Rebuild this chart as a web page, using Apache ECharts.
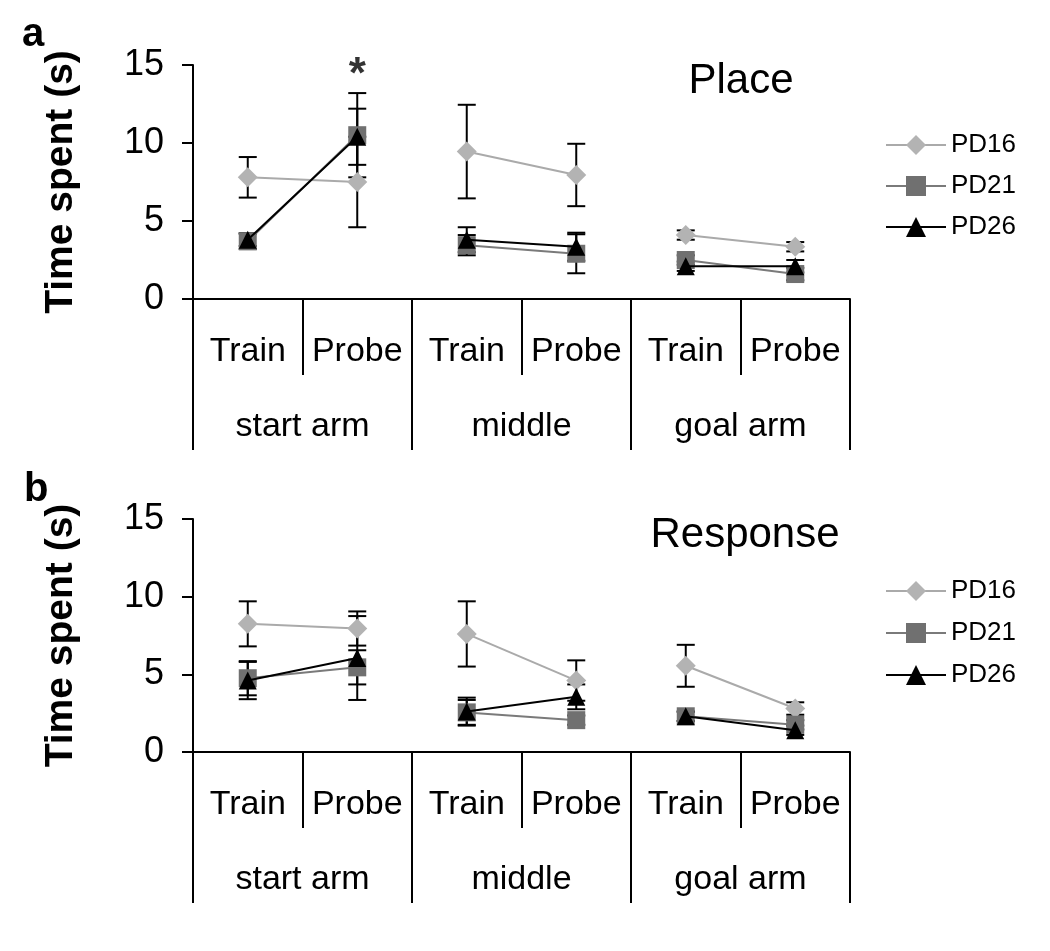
<!DOCTYPE html>
<html>
<head>
<meta charset="utf-8">
<script src="https://cdn.jsdelivr.net/npm/echarts@6/dist/echarts.min.js"></script>
<style>html,body{margin:0;padding:0;background:#fff}#c{width:1050px;height:951px}</style>
</head>
<body>
<div id="c"></div>
<script>
// ---- data ----
const conditions = ['Train', 'Probe', 'Train', 'Probe', 'Train', 'Probe'];
const zones = ['start arm', 'middle', 'goal arm'];
const yTicks = [0, 5, 10, 15];
const seriesNames = ['PD16', 'PD21', 'PD26'];
const panelTitles = ['Place', 'Response'];
const panelLetters = ['a', 'b'];

// Panel a (Place): means and error (±)
const placePD16 = [7.8, 7.5, 9.45, 7.95, 4.1, 3.35];
const placePD16Err = [1.3, 2.9, 3.0, 2.0, 0.3, 0.3];
const placePD21 = [3.7, 10.5, 3.45, 2.9, 2.5, 1.6];
const placePD21Err = [0.5, 2.7, 0.65, 1.25, 0.3, 0.4];
const placePD26 = [3.8, 10.4, 3.8, 3.35, 2.1, 2.1];
const placePD26Err = [0.4, 1.8, 0.8, 0.9, 0.3, 0.4];

// Panel b (Response)
const respPD16 = [8.25, 7.95, 7.6, 4.6, 5.55, 2.8];
const respPD16Err = [1.45, 1.1, 2.1, 1.3, 1.35, 0.4];
const respPD21 = [4.75, 5.45, 2.55, 2.05, 2.3, 1.75];
const respPD21Err = [1.1, 1.1, 0.8, 0.3, 0.3, 0.3];
const respPD26 = [4.6, 6.05, 2.6, 3.55, 2.3, 1.4];
const respPD26Err = [1.2, 2.7, 0.9, 0.8, 0.3, 0.3];

// significance marker (panel a, start arm probe)
const sigMarks = [[1, 14.3]];

// ---- styling ----
const FONT = 'Liberation Sans, Arial, sans-serif';
const styles = {
  PD16: { symbol: 'diamond', size: 20, fill: '#b3b3b3', line: '#aaaaaa' },
  PD21: { symbol: 'rect', size: 18, fill: '#707070', line: '#7a7a7a' },
  PD26: { symbol: 'triangle', size: 18, fill: '#000000', line: '#000000' }
};

const panels = [
  { means: [placePD16, placePD21, placePD26], errs: [placePD16Err, placePD21Err, placePD26Err] },
  { means: [respPD16, respPD21, respPD26], errs: [respPD16Err, respPD21Err, respPD26Err] }
];

const grids = [
  { left: 193, top: 65, width: 657, height: 234 },
  { left: 193, top: 519, width: 657, height: 233 }
];

const xAxes = [];
const yAxes = [];
const series = [];

grids.forEach((g, p) => {
  xAxes.push({
    type: 'category', gridIndex: p, position: 'bottom', data: conditions,
    boundaryGap: true,
    axisLine: { show: true, onZero: false, lineStyle: { color: '#000', width: 2 } },
    axisTick: { show: true, length: 76, interval: 0, lineStyle: { color: '#000', width: 2 } },
    axisLabel: { show: true, interval: 0, margin: 36, fontSize: 34, color: '#000', fontFamily: FONT },
    splitLine: { show: false }
  });
  xAxes.push({
    type: 'category', gridIndex: p, position: 'bottom', data: zones,
    boundaryGap: true,
    axisLine: { show: false, onZero: false },
    axisTick: { show: true, length: 151, interval: 0, lineStyle: { color: '#000', width: 2 } },
    axisLabel: { show: true, interval: 0, margin: 111, fontSize: 34, color: '#000', fontFamily: FONT },
    splitLine: { show: false }
  });
  yAxes.push({
    type: 'value', gridIndex: p, min: yTicks[0], max: yTicks[yTicks.length - 1], interval: 5,
    name: 'Time spent (s)', nameLocation: 'middle', nameGap: 112,
    nameTextStyle: { fontSize: 39, fontWeight: 'bold', color: '#000', fontFamily: FONT },
    axisLine: { show: true, lineStyle: { color: '#000', width: 2 } },
    axisTick: { show: true, length: 11, lineStyle: { color: '#000', width: 2 } },
    axisLabel: { margin: 29, fontSize: 36, color: '#000', fontFamily: FONT },
    splitLine: { show: false }
  });

  const xIdx = p * 2;
  seriesNames.forEach((name, s) => {
    const st = styles[name];
    const means = panels[p].means[s];
    const errs = panels[p].errs[s];
    // error bars
    series.push({
      type: 'custom', name: name + '-err', xAxisIndex: xIdx, yAxisIndex: p,
      z: 1, silent: true,
      data: means.map((m, i) => [i, m, errs[i]]),
      encode: { x: 0, y: 1 },
      renderItem: function (params, api) {
        const x = api.value(0), m = api.value(1), e = api.value(2);
        const top = api.coord([x, m + e]);
        const bot = api.coord([x, m - e]);
        const hw = 9;
        const ls = { stroke: '#000', lineWidth: 2 };
        return {
          type: 'group',
          children: [
            { type: 'line', shape: { x1: top[0], y1: top[1], x2: bot[0], y2: bot[1] }, style: ls },
            { type: 'line', shape: { x1: top[0] - hw, y1: top[1], x2: top[0] + hw, y2: top[1] }, style: ls },
            { type: 'line', shape: { x1: bot[0] - hw, y1: bot[1], x2: bot[0] + hw, y2: bot[1] }, style: ls }
          ]
        };
      }
    });
    // line segments per zone (Train-Probe)
    zones.forEach((zn, gi) => {
      const data = means.map((v, i) => (Math.floor(i / 2) === gi ? v : '-'));
      series.push({
        type: 'line', name: name, xAxisIndex: xIdx, yAxisIndex: p,
        z: 2 + s, data: data, connectNulls: false,
        symbol: st.symbol, symbolSize: st.size, showAllSymbol: true,
        itemStyle: { color: st.fill, opacity: 1 },
        lineStyle: { color: st.line, width: 2 },
        emphasis: { disabled: true },
        animation: false
      });
    });
  });
});

series.push({
  type: 'scatter', name: 'sig', xAxisIndex: 0, yAxisIndex: 0,
  data: sigMarks, symbolSize: 1, itemStyle: { color: 'rgba(0,0,0,0)' }, silent: true, z: 10,
  label: { show: true, position: 'inside', formatter: '*', fontSize: 44, fontWeight: 'bold', color: '#000', fontFamily: FONT }
});

const option = {
  animation: false,
  backgroundColor: '#fff',
  textStyle: { fontFamily: FONT },
  grid: grids,
  xAxis: xAxes,
  yAxis: yAxes,
  legend: [
    { data: seriesNames, orient: 'vertical', left: 885, top: 132, itemGap: 15, itemWidth: 60, itemHeight: 25,
      padding: 0, textStyle: { fontSize: 26, color: '#000', fontFamily: FONT } },
    { data: seriesNames, orient: 'vertical', left: 885, top: 578, itemGap: 16, itemWidth: 60, itemHeight: 25,
      padding: 0, textStyle: { fontSize: 26, color: '#000', fontFamily: FONT } }
  ],
  graphic: [
    { type: 'text', left: 22, top: 15, style: { text: panelLetters[0], font: 'bold 40px ' + FONT, fill: '#000' } },
    { type: 'text', left: 24, top: 470, style: { text: panelLetters[1], font: 'bold 40px ' + FONT, fill: '#000' } },
    { type: 'text', x: 741, y: 81, style: { text: panelTitles[0], font: '42px ' + FONT, fill: '#000', textAlign: 'center', textVerticalAlign: 'middle' } },
    { type: 'text', x: 745, y: 535, style: { text: panelTitles[1], font: '42px ' + FONT, fill: '#000', textAlign: 'center', textVerticalAlign: 'middle' } }
  ],
  series: series
};

const chart = echarts.init(document.getElementById('c'), null, { renderer: 'canvas' });
chart.setOption(option);
</script>
</body>
</html>
